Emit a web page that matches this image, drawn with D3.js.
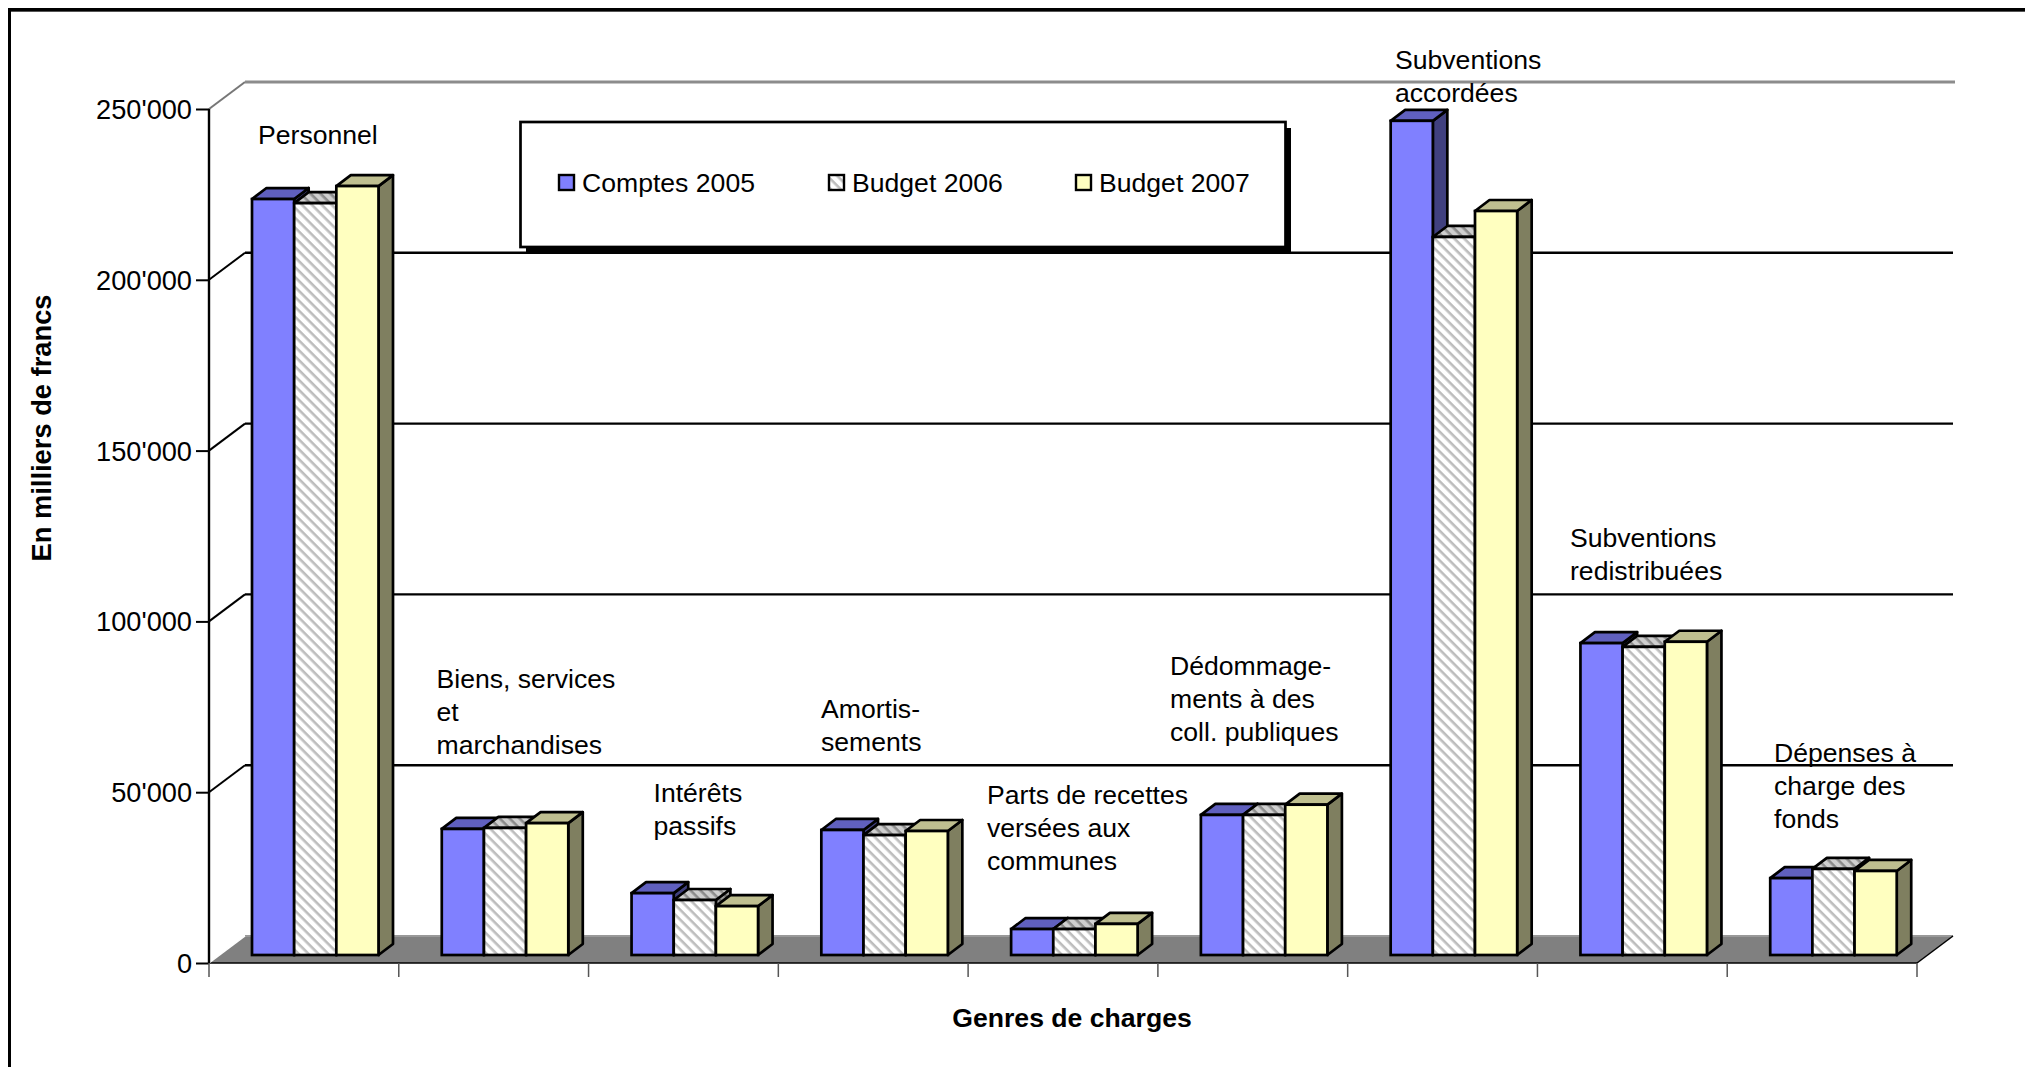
<!DOCTYPE html>
<html><head><meta charset="utf-8">
<script src="https://cdn.jsdelivr.net/npm/d3@7"></script>
<style>html,body{margin:0;padding:0;background:#fff;overflow:hidden}svg{display:block}
text{font-family:"Liberation Sans",Arial,sans-serif;fill:#000}</style></head><body>
<svg id="c" width="2025" height="1067"></svg>
<script>
const categories=["Personnel","Biens, services et marchandises","Intérêts passifs","Amortissements","Parts de recettes versées aux communes","Dédommagements à des coll. publiques","Subventions accordées","Subventions redistribuées","Dépenses à charge des fonds"];
const seriesNames=["Comptes 2005","Budget 2006","Budget 2007"];
const comptes2005=[221300,36900,18100,36600,7600,41000,244200,91300,22500];
const budget2006=[220100,37200,16100,35100,7600,41000,210200,90200,25200];
const budget2007=[225100,38600,14300,36300,9100,44000,217800,91700,24600];
const yTicks=[0,50000,100000,150000,200000,250000];
const labelLines=[["Personnel"],["Biens, services","et","marchandises"],["Intérêts","passifs"],["Amortis-","sements"],["Parts de recettes","versées aux","communes"],["Dédommage-","ments à des","coll. publiques"],["Subventions","accordées"],["Subventions","redistribuées"],["Dépenses à","charge des","fonds"]];
const labelX=[258,436.5,653.5,821,987,1170,1395,1570,1774];
const labelY=[144,688,802,718,804,675,68.5,547,762];

const svg=d3.select("#c");
const L=209,R=1917,Y0=963,Y250=109,DX=36,DY=27,BDX=14.5,BDY=11,BASE=955,LH=33;
const FS=26.6;
const y=d3.scaleLinear().domain([0,250000]).range([Y0,Y250]);
const yBar=v=>BASE-(y(0)-y(v));
const x=d3.scaleBand().domain(categories).range([L,R]);
const xs=d3.scaleBand().domain(seriesNames).range([43,43+126.5]);
const fmt=v=>String(v).replace(/\B(?=(\d{3})+$)/g,"'");

const defs=svg.append("defs");
function hatch(id,bg,fg){
  const p=defs.append("pattern").attr("id",id).attr("patternUnits","userSpaceOnUse").attr("width",7).attr("height",7)
    .attr("patternTransform","rotate(45)");
  p.append("rect").attr("width",7).attr("height",7).attr("fill",bg);
  p.append("rect").attr("y",0).attr("width",7).attr("height",2.6).attr("fill",fg);
}
hatch("h1","#ffffff","#bdbdbd");hatch("h2","#cfcfcf","#8c8c8c");hatch("h3","#9a9a9a","#666666");
const styles=[
 {front:"#8080ff",top:"#6060bf",side:"#40407f"},
 {front:"url(#h1)",top:"url(#h2)",side:"url(#h3)"},
 {front:"#ffffc0",top:"#bfbf90",side:"#7f7f60"}];
const values=[comptes2005,budget2006,budget2007];

// frame
svg.append("rect").attr("x",8).attr("y",8).attr("width",2017).attr("height",3).attr("fill","#000");
svg.append("rect").attr("x",8).attr("y",11).attr("width",2017).attr("height",1).attr("fill","#555");
svg.append("rect").attr("x",8).attr("y",8).attr("width",3).attr("height",1059).attr("fill","#000");

// walls: gridlines
const g=svg.append("g");
yTicks.forEach(t=>{
  const yy=y(t);
  if(t>0){
    const top=t===250000;
    g.append("line").attr("x1",L).attr("y1",yy).attr("x2",L+DX).attr("y2",yy-DY).attr("stroke",top?"#777":"#000").attr("stroke-width",2);
    g.append("line").attr("x1",L+DX).attr("y1",yy-DY).attr("x2",R+DX+(top?2:0)).attr("y2",yy-DY).attr("stroke",top?"#8c8c8c":"#000").attr("stroke-width",top?3.2:2.4);
  }
});
// floor
g.append("path").attr("d",d3.line()([[L,Y0],[R,Y0],[R+DX,Y0-DY],[L+DX,Y0-DY]])+"Z").attr("fill","#808080");
g.append("line").attr("x1",L+DX).attr("y1",Y0-DY).attr("x2",R+DX).attr("y2",Y0-DY).attr("stroke","#999").attr("stroke-width",2);
g.append("line").attr("x1",L).attr("y1",Y0).attr("x2",R).attr("y2",Y0).attr("stroke","#000").attr("stroke-width",1.5);
g.append("line").attr("x1",R).attr("y1",Y0).attr("x2",R+DX).attr("y2",Y0-DY).attr("stroke","#000").attr("stroke-width",1.5);
g.append("line").attr("x1",L).attr("y1",Y0).attr("x2",L+DX).attr("y2",Y0-DY).attr("stroke","#fff").attr("stroke-width",1.5);

// axes
const axisY=d3.axisLeft(y).tickValues(yTicks).tickFormat(fmt).tickSize(13).tickPadding(4);
const ay=svg.append("g").attr("transform",`translate(${L},0)`).call(axisY);
ay.select(".domain").attr("stroke","#000").attr("stroke-width",2.4).attr("d",`M0,${Y250}V${Y0}`);
ay.selectAll(".tick line").attr("stroke","#000").attr("stroke-width",2);
ay.selectAll("text").attr("font-size",27.2).attr("font-family",'"Liberation Sans"').attr("dy","0.35em");

const xTickVals=d3.range(categories.length+1).map(i=>L+i*x.step());
svg.append("g").selectAll("line").data(xTickVals).join("line")
  .attr("x1",d=>d).attr("x2",d=>d).attr("y1",Y0).attr("y2",Y0+14).attr("stroke","#555").attr("stroke-width",1.5);

// bars
categories.forEach((c,ci)=>{
  const grp=svg.append("g");
  seriesNames.forEach((s,si)=>{
    const st=styles[si],v=values[si][ci];
    const x0=x(c)+xs(s),x1=x0+xs.bandwidth(),yt=yBar(v);
    const sw=2.7;
    grp.append("path").attr("d",d3.line()([[x1,yt],[x1+BDX,yt-BDY],[x1+BDX,BASE-BDY],[x1,BASE]])+"Z").attr("fill",st.side).attr("stroke","#000").attr("stroke-width",sw).attr("stroke-linejoin","round");
    grp.append("path").attr("d",d3.line()([[x0,yt],[x0+BDX,yt-BDY],[x1+BDX,yt-BDY],[x1,yt]])+"Z").attr("fill",st.top).attr("stroke","#000").attr("stroke-width",sw).attr("stroke-linejoin","round");
    grp.append("rect").attr("x",x0).attr("y",yt).attr("width",x1-x0).attr("height",BASE-yt).attr("fill",st.front).attr("stroke","#000").attr("stroke-width",sw);
  });
});

// category labels
labelLines.forEach((lines,i)=>{
  const t=svg.append("text").attr("font-size",FS);
  lines.forEach((l,j)=>t.append("tspan").attr("x",labelX[i]).attr("y",labelY[i]+j*LH).text(l));
});

// titles
svg.append("text").attr("transform","translate(51,428) rotate(-90)").attr("text-anchor","middle").attr("font-size",27.3).attr("font-weight","bold").text("En milliers de francs");
svg.append("text").attr("x",1072).attr("y",1027).attr("text-anchor","middle").attr("font-size",FS).attr("font-weight","bold").text("Genres de charges");

// legend
const lg=svg.append("g");
lg.append("rect").attr("x",526).attr("y",128).attr("width",765).attr("height",125).attr("fill","#000");
lg.append("rect").attr("x",520.5).attr("y",122).attr("width",765).attr("height",125).attr("fill","#fff").attr("stroke","#000").attr("stroke-width",2.7);
const lgX=[559,829,1076];
seriesNames.forEach((s,i)=>{
  lg.append("rect").attr("x",lgX[i]).attr("y",175).attr("width",15).attr("height",15).attr("fill",styles[i].front).attr("stroke","#000").attr("stroke-width",2.4);
  lg.append("text").attr("x",lgX[i]+23).attr("y",192).attr("font-size",FS).text(s);
});
</script></body></html>
